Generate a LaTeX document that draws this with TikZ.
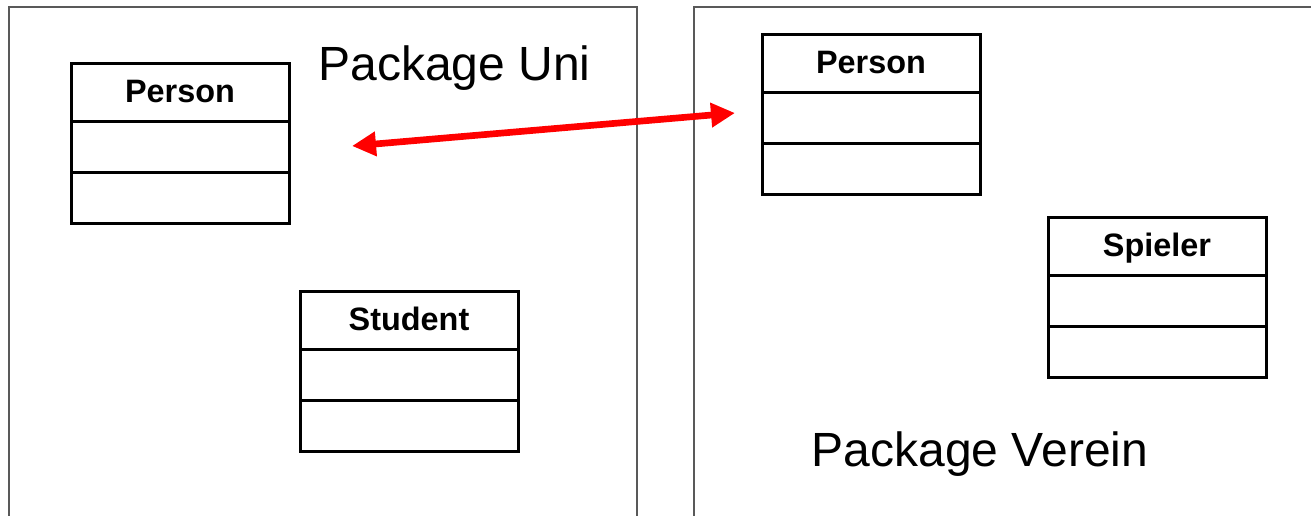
\documentclass[tikz,border=0pt]{standalone}
\usepackage{fontspec}
\setmainfont{Liberation Sans}
\usetikzlibrary{arrows.meta}
\tikzset{
  classbox/.style={draw=black, line width=2.25pt, minimum width=163.5pt, minimum height=120pt, inner sep=0pt, outer sep=0pt, anchor=north west},
  classline/.style={draw=black, line width=2.25pt},
  classtitle/.style={anchor=base, inner sep=0pt, font=\fontsize{24.3pt}{29pt}\selectfont\bfseries},
  pkgframe/.style={draw=black!65, line width=1.1pt},
  pkglabel/.style={anchor=base, inner sep=0pt, font=\fontsize{36pt}{43pt}\selectfont},
  linkarrow/.style={draw=red, line width=5pt, {Triangle[length=18pt,width=17.5pt]}-{Triangle[length=18pt,width=17.5pt]}}
}
\newcommand{\umlclassbox}[3]{%
  \node[classbox] (#1) at (#2) {};
  \draw[classline] ([yshift=-43.5pt]#1.north west) -- ([yshift=-43.5pt]#1.north east);
  \draw[classline] ([yshift=-81.75pt]#1.north west) -- ([yshift=-81.75pt]#1.north east);
  \node[classtitle] (#1-title) at ([yshift=-29.2pt]#1.north) {#3};
}
\begin{document}
\begin{tikzpicture}[x=0.75pt, y=-0.75pt]
  \useasboundingbox[fill=white] (0,0) rectangle (1311,516);
  % package frames
  \coordinate (uniBL) at (9,516);
  \coordinate (uniTL) at (9,7);
  \coordinate (uniTR) at (637,7);
  \coordinate (uniBR) at (637,516);
  \draw[pkgframe] (uniBL) -- (uniTL) -- (uniTR) -- (uniBR);
  \coordinate (verBL) at (694,516);
  \coordinate (verTL) at (694,7);
  \coordinate (verTR) at (1311,7);
  \draw[pkgframe] (verBL) -- (verTL) -- (verTR);
  % labels
  \node[pkglabel] (uniLabel) at (454.5,81) {Package Uni};
  \node[pkglabel] (verLabel) at (980,467) {Package Verein};
  % classes
  \umlclassbox{personUni}{71,64}{Person}
  \umlclassbox{student}{300,292}{Student}
  \umlclassbox{personVer}{762,35}{Person}
  \umlclassbox{spieler}{1048,218}{Spieler}
  % arrow
  \coordinate (arrL) at (352,146);
  \coordinate (arrR) at (735,113);
  \draw[linkarrow] (arrL) -- (arrR);
\end{tikzpicture}
\end{document}
